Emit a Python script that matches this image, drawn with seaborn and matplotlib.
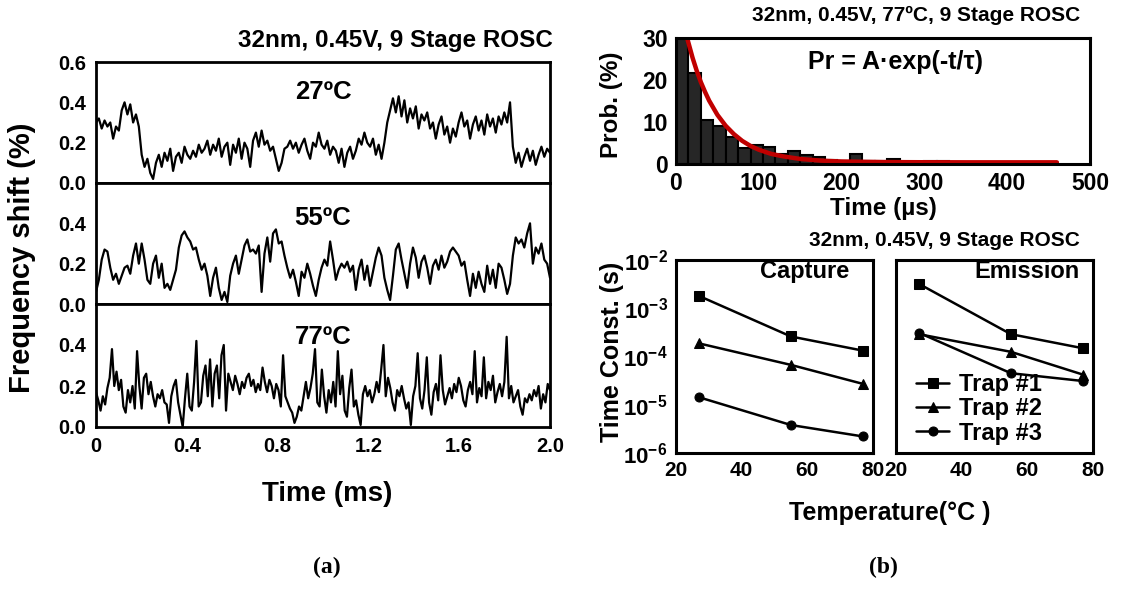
import numpy as np
import pandas as pd
import matplotlib
matplotlib.use("Agg")
import matplotlib.pyplot as plt
import seaborn as sns

# ---------------- data ----------------
trace_27C = [0.30,0.32,0.27,0.31,0.28,0.30,0.22,0.28,0.26,
             0.36,0.40,0.34,
             0.39,0.30,0.34,0.28,
             0.14,
             0.08,0.12,0.05,0.02,
             0.10,0.14,0.08,0.15,0.11,0.17,0.06,0.13,0.15,0.10,0.18,0.14,0.12,0.16,0.13,0.19,0.15,
             0.17,0.21,0.14,0.19,0.16,0.22,0.13,0.18,0.20,0.09,0.19,0.15,0.22,0.12,0.20,0.17,0.08,0.21,0.25,0.18,0.26,0.19,0.21,0.16,0.18,
             0.12,0.06,0.10,0.17,
             0.18,0.21,0.17,0.20,0.15,0.19,0.22,0.16,0.12,0.20,0.18,0.25,0.19,0.17,0.21,0.14,0.18,0.16,0.10,0.17,0.08,0.15,0.18,0.12,0.16,0.22,0.19,0.25,0.20,0.18,0.22,0.14,0.19,0.12,
             0.20,0.30,0.36,
             0.42,0.35,0.43,0.33,0.41,0.30,0.37,0.32,0.38,0.27,0.34,0.31,
             0.35,0.27,0.30,0.22,0.29,0.33,0.24,0.28,0.20,0.27,0.23,0.30,0.35,0.28,0.31,0.22,0.29,0.33,0.26,0.31,0.24,0.34,0.28,0.32,0.25,0.33,0.29,0.35,0.30,0.40,
             0.18,
             0.10,0.15,0.08,0.13,0.17,0.11,0.16,0.09,0.14,0.18,0.13,0.17,0.15]

trace_55C = [0.06,0.12,0.22,0.27,0.26,0.18,0.12,0.15,0.10,0.14,
             0.18,0.19,0.15,0.24,0.30,0.20,0.30,0.22,0.12,0.10,
             0.20,0.24,0.13,0.20,0.08,0.10,0.07,0.12,0.17,0.28,
             0.34,0.36,0.33,0.31,0.27,0.28,0.22,0.17,0.20,0.14,
             0.04,0.13,0.18,0.08,0.02,0.06,0.01,0.14,0.20,0.24,
             0.15,0.22,0.29,0.32,0.26,0.27,0.25,0.29,0.06,0.25,
             0.33,0.21,0.35,0.37,0.30,0.31,0.24,0.18,0.13,0.17,
             0.11,0.04,0.16,0.13,0.20,0.15,0.09,0.04,0.12,0.18,
             0.22,0.19,0.31,0.22,0.12,0.17,0.20,0.18,0.21,0.16,
             0.19,0.07,0.17,0.22,0.12,0.19,0.09,0.16,0.23,0.28,
             0.24,0.13,0.07,0.02,0.14,0.27,0.30,0.22,0.15,0.08,
             0.20,0.28,0.23,0.13,0.21,0.24,0.18,0.10,0.19,0.22,
             0.17,0.24,0.18,0.21,0.26,0.28,0.26,0.24,0.19,0.21,
             0.12,0.04,0.15,0.08,0.16,0.10,0.06,0.19,0.10,0.17,
             0.08,0.20,0.18,0.12,0.05,0.10,0.24,0.33,0.30,0.32,
             0.28,0.35,0.40,0.20,0.28,0.25,0.30,0.22,0.20,0.13]

trace_77C = [0.17,0.13,0.08,0.15,0.11,0.19,0.24,0.38,0.20,0.27,
             0.18,0.23,0.10,0.07,0.18,0.12,0.20,0.09,0.37,0.20,
             0.09,0.24,0.26,0.16,0.22,0.15,0.10,0.16,0.14,0.18,
             0.12,0.11,0.02,0.15,0.20,0.23,0.12,0.06,0.00,0.14,
             0.26,0.10,0.08,0.22,0.42,0.10,0.12,0.25,0.30,0.15,
             0.33,0.10,0.26,0.30,0.14,0.35,0.40,0.08,0.26,0.22,
             0.18,0.25,0.21,0.16,0.22,0.19,0.24,0.26,0.20,0.23,
             0.17,0.21,0.18,0.29,0.22,0.17,0.23,0.20,0.14,0.21,
             0.18,0.10,0.35,0.15,0.12,0.09,0.07,0.02,0.05,0.10,
             0.08,0.15,0.22,0.14,0.19,0.26,0.38,0.12,0.10,0.28,
             0.15,0.07,0.18,0.12,0.22,0.10,0.37,0.16,0.25,0.08,
             0.05,0.19,0.28,0.10,0.13,0.06,0.01,0.16,0.20,0.15,
             0.18,0.12,0.16,0.22,0.17,0.28,0.40,0.15,0.24,0.19,
             0.12,0.08,0.18,0.15,0.20,0.14,0.09,0.12,0.01,0.15,
             0.20,0.36,0.14,0.09,0.18,0.34,0.12,0.06,0.17,0.21,
             0.13,0.35,0.18,0.11,0.15,0.19,0.14,0.21,0.17,0.24,
             0.20,0.13,0.10,0.18,0.22,0.16,0.37,0.12,0.19,0.15,
             0.34,0.14,0.22,0.18,0.25,0.12,0.17,0.21,0.15,0.22,
             0.44,0.14,0.20,0.12,0.15,0.18,0.10,0.06,0.14,0.12,
             0.16,0.13,0.18,0.15,0.20,0.09,0.16,0.12,0.21,0.18]

trace_labels = ["27ºC", "55ºC", "77ºC"]

# histogram of dwell times (77ºC)
hist_time_us = [7.5, 22.5, 37.5, 52.5, 67.5, 82.5, 97.5, 112.5, 127.5, 142.5,
                157.5, 172.5, 187.5, 202.5, 217.5, 232.5, 247.5, 262.5, 277.5,
                292.5, 307.5, 322.5]
hist_prob = [33.0, 21.6, 10.5, 9.0, 6.4, 3.8, 4.5, 4.1, 2.4, 3.0,
             2.2, 1.6, 1.0, 0.8, 2.4, 0.8, 0.6, 1.3, 0.5, 0.5, 0.8, 0.6]
hist_bin_us = 15.0

# exponential fit
fit_t = [14, 20, 25, 30, 35, 40, 50, 60, 70, 80, 90, 100, 115, 130, 150,
         175, 200, 250, 300, 350, 400, 460]
fit_p = [29.6, 25.3, 22.2, 19.5, 17.2, 15.1, 11.7, 9.1, 7.1, 5.5, 4.3, 3.4,
         2.4, 1.8, 1.2, 0.8, 0.6, 0.46, 0.42, 0.4, 0.4, 0.4]

# time constants vs temperature
temps = [27, 55, 77]
capture = {"Trap #1": [1.8e-3, 2.6e-4, 1.32e-4],
           "Trap #2": [1.87e-4, 6.7e-5, 2.7e-5],
           "Trap #3": [1.43e-5, 3.8e-6, 2.2e-6]}
emission = {"Trap #1": [3.2e-3, 2.9e-4, 1.48e-4],
            "Trap #2": [2.9e-4, 1.25e-4, 4.2e-5],
            "Trap #3": [3.1e-4, 4.5e-5, 3.1e-5]}
trap_markers = {"Trap #1": "s", "Trap #2": "^", "Trap #3": "o"}
trap_msize = {"Trap #1": 7, "Trap #2": 6.5, "Trap #3": 6.5}

# ---------------- style ----------------
sns.set_theme(style="white")
plt.rcParams["font.family"] = ["Liberation Sans", "DejaVu Sans"]
plt.rcParams["font.weight"] = "bold"
plt.rcParams["axes.labelweight"] = "bold"
plt.rcParams["text.color"] = "black"
plt.rcParams["axes.labelcolor"] = "black"
plt.rcParams["xtick.color"] = "black"
plt.rcParams["ytick.color"] = "black"
plt.rcParams["mathtext.fontset"] = "custom"
plt.rcParams["mathtext.rm"] = "Liberation Sans:bold"
plt.rcParams["mathtext.it"] = "Liberation Sans:bold"
plt.rcParams["mathtext.bf"] = "Liberation Sans:bold"
plt.rcParams["mathtext.default"] = "rm"

W, H = 1148, 593
fig = plt.figure(figsize=(W / 100, H / 100), dpi=100)


def px_axes(x0, y0, x1, y1):
    return fig.add_axes([x0 / W, 1 - y1 / H, (x1 - x0) / W, (y1 - y0) / H])


def style_spines(ax, lw):
    for s in ax.spines.values():
        s.set_visible(True)
        s.set_linewidth(lw)
        s.set_color("black")


# ---------------- left: RTN traces ----------------
panel_px = [(62, 183), (183, 304), (304, 427)]
traces = [trace_27C, trace_55C, trace_77C]
label_y = [0.75, 0.71, 0.73]
for k, (vals, (y0, y1)) in enumerate(zip(traces, panel_px)):
    ax = px_axes(96, y0, 550, y1)
    t = np.linspace(0, 2.0, len(vals))
    df = pd.DataFrame({"t": t, "v": vals})
    sns.lineplot(data=df, x="t", y="v", ax=ax, color="black", lw=1.6)
    ax.set_xlim(0, 2.0)
    ax.set_ylim(0, 0.6)
    style_spines(ax, 2.0)
    if k == 0:
        ax.set_yticks([0, 0.2, 0.4, 0.6])
        ax.set_yticklabels(["0.0", "0.2", "0.4", "0.6"])
    else:
        ax.set_yticks([0, 0.2, 0.4])
        ax.set_yticklabels(["0.0", "0.2", "0.4"])
    ax.set_xticks([0, 0.4, 0.8, 1.2, 1.6, 2.0])
    if k == 2:
        ax.set_xticklabels(["0", "0.4", "0.8", "1.2", "1.6", "2.0"])
    else:
        ax.set_xticklabels([])
    ax.tick_params(axis="both", direction="out", length=4, width=2,
                   labelsize=14.5, pad=3, colors="black")
    for lab in ax.get_xticklabels() + ax.get_yticklabels():
        lab.set_fontweight("bold")
    ax.set_xlabel("")
    ax.set_ylabel("")
    ax.text(0.5, label_y[k], trace_labels[k], transform=ax.transAxes,
            ha="center", va="center", fontsize=18.5, fontweight="bold")

fig.text(553 / W, 1 - 40 / H, "32nm, 0.45V, 9 Stage ROSC", ha="right",
         va="center", fontsize=17.5, fontweight="bold")
fig.text(22 / W, 1 - 258 / H, "Frequency shift (%)", rotation=90,
         ha="center", va="center", fontsize=21, fontweight="bold")
fig.text(327 / W, 1 - 494 / H, "Time (ms)", ha="center", va="center",
         fontsize=20, fontweight="bold")

# ---------------- right top: histogram ----------------
axh = px_axes(676, 38, 1090, 164)
edges = [hist_time_us[0] - hist_bin_us / 2] + [c + hist_bin_us / 2 for c in hist_time_us]
sns.histplot(x=hist_time_us, weights=hist_prob, bins=edges, ax=axh,
             color="#262626", edgecolor="black", linewidth=1.5, alpha=1.0)
sns.lineplot(x=fit_t, y=fit_p, ax=axh, color="#C00000", lw=3.2)
axh.set_xlim(0, 500)
axh.set_ylim(0, 30)
axh.set_xticks([0, 100, 200, 300, 400, 500])
axh.set_yticks([0, 10, 20, 30])
style_spines(axh, 2.2)
axh.tick_params(axis="both", direction="out", length=4, width=2,
                labelsize=16.5, pad=2, colors="black")
for lab in axh.get_xticklabels() + axh.get_yticklabels():
    lab.set_fontweight("bold")
axh.set_xlabel("")
axh.set_ylabel("")
axh.text(0.53, 0.81, "Pr = A·exp(-t/τ)", transform=axh.transAxes,
         ha="center", va="center", fontsize=18, fontweight="bold")
fig.text(1080 / W, 1 - 15 / H, "32nm, 0.45V, 77ºC, 9 Stage ROSC",
         ha="right", va="center", fontsize=15, fontweight="bold")
fig.text(612 / W, 1 - 105 / H, "Prob. (%)", rotation=90, ha="center",
         va="center", fontsize=17.5, fontweight="bold")
fig.text(883 / W, 1 - 208 / H, "Time (µs)", ha="center", va="center",
         fontsize=17.5, fontweight="bold")

# ---------------- right bottom: time constants ----------------
axc = px_axes(676, 260, 873, 453)
axe = px_axes(896, 260, 1093, 453)
for ax, data, name in [(axc, capture, "Capture"), (axe, emission, "Emission")]:
    for trap, vals in data.items():
        sns.lineplot(x=temps, y=vals, ax=ax, color="black", lw=1.8,
                     marker=trap_markers[trap], markersize=trap_msize[trap],
                     markeredgecolor="black", markerfacecolor="black",
                     label=trap)
    ax.set_yscale("log")
    ax.set_ylim(1e-6, 1e-2)
    ax.set_xlim(20, 80)
    ax.set_xticks([20, 40, 60, 80])
    ax.set_yticks([1e-6, 1e-5, 1e-4, 1e-3, 1e-2])
    ax.minorticks_off()
    style_spines(ax, 2.2)
    ax.tick_params(axis="both", direction="out", length=4, width=2,
                   labelsize=15, pad=2, colors="black")
    ax.set_xlabel("")
    ax.set_ylabel("")
    ax.text(0.93 if name == "Emission" else 0.88, 0.94, name,
            transform=ax.transAxes, ha="right", va="center", fontsize=17,
            fontweight="bold")
    for lab in ax.get_xticklabels():
        lab.set_fontweight("bold")

axc.set_yticklabels([r"$10^{-6}$", r"$10^{-5}$", r"$10^{-4}$", r"$10^{-3}$", r"$10^{-2}$"],
                    fontsize=16)
axe.set_yticklabels([])
axc.get_legend().remove()
leg = axe.legend(loc="lower left", bbox_to_anchor=(0.03, -0.03), frameon=False,
                 prop={"size": 17, "weight": "bold"}, handlelength=1.4,
                 handletextpad=0.4, labelspacing=0.05, borderpad=0.1)

fig.text(1080 / W, 1 - 241 / H, "32nm, 0.45V, 9 Stage ROSC", ha="right",
         va="center", fontsize=15, fontweight="bold")
fig.text(612 / W, 1 - 352 / H, "Time Const. (s)", rotation=90, ha="center",
         va="center", fontsize=18, fontweight="bold")
fig.text(890 / W, 1 - 513 / H, "Temperature(°C )", ha="center", va="center",
         fontsize=18, fontweight="bold")

# ---------------- panel labels ----------------
fig.text(327 / W, 1 - 567 / H, "(a)", ha="center", va="center", fontsize=17,
         fontweight="bold", family=["Liberation Serif", "DejaVu Serif"])
fig.text(883 / W, 1 - 567 / H, "(b)", ha="center", va="center", fontsize=17,
         fontweight="bold", family=["Liberation Serif", "DejaVu Serif"])

fig.savefig("out.png", dpi=100)
